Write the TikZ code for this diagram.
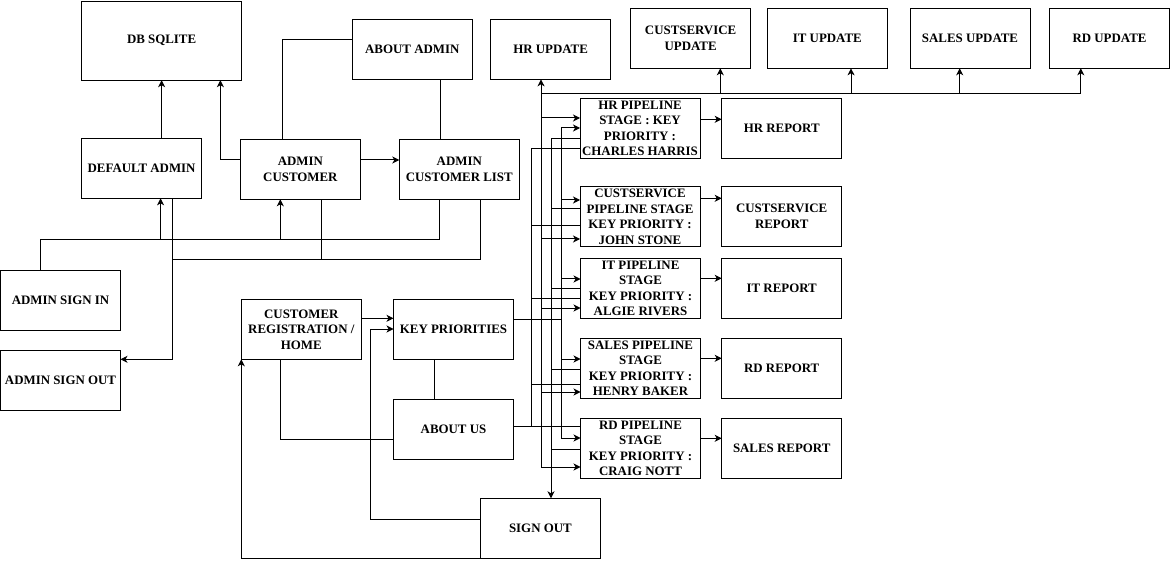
\documentclass[tikz,border=0pt]{standalone}
\usepackage{fontspec}
\setmainfont{Liberation Serif}
\usetikzlibrary{arrows.meta}
\begin{document}
\begin{tikzpicture}[x=1bp,y=-1bp,
  box/.style={draw, rectangle, line width=1bp, minimum width=120bp, minimum height=60bp,
    inner sep=0pt, outer sep=0pt, align=center,
    font=\bfseries\fontsize{12.9bp}{15.5bp}\selectfont},
  con/.style={line width=1bp},
  arr/.style={con, -{Stealth[length=7bp,width=7bp,inset=2bp]}}]
\useasboundingbox (0,0) rectangle (1170,568);
% boxes
\node[box, minimum width=160bp, minimum height=79bp] (db) at (161.6,40.7) {DB SQLITE};
\node[box] (aboutadmin) at (412.3,49.3) {ABOUT ADMIN};
\node[box] (hrup) at (550.6,49.3) {HR UPDATE};
\node[box] (csup) at (690.6,38.3) {CUSTSERVICE\\UPDATE};
\node[box] (itup) at (827.3,38.3) {IT UPDATE};
\node[box] (salesup) at (970,38.3) {SALES UPDATE};
\node[box] (rdup) at (1109.5,38.3) {RD UPDATE};
\node[box] (defadmin) at (141.6,168.3) {DEFAULT ADMIN};
\node[box] (admincust) at (300.4,169.3) {ADMIN\\CUSTOMER};
\node[box] (admincustlist) at (459.3,169.3) {ADMIN\\CUSTOMER LIST};
\node[box] (signin) at (60.5,300.3) {ADMIN SIGN IN};
\node[box] (signoutadm) at (60.5,380.3) {ADMIN SIGN OUT};
\node[box] (custreg) at (301.3,329.3) {CUSTOMER\\REGISTRATION /\\HOME};
\node[box] (keypri) at (453.5,329.3) {KEY PRIORITIES};
\node[box] (aboutus) at (453.5,429.3) {ABOUT US};
\node[box] (signout) at (540.4,528.3) {SIGN OUT};
\node[box] (hrpipe) at (640,128.3) {HR PIPELINE\\STAGE : KEY\\PRIORITY :\\CHARLES HARRIS};
\node[box] (cspipe) at (640,216.7) {CUSTSERVICE\\PIPELINE STAGE\\KEY PRIORITY :\\JOHN STONE};
\node[box] (itpipe) at (640.5,288.3) {IT PIPELINE\\STAGE\\KEY PRIORITY :\\ALGIE RIVERS};
\node[box] (salespipe) at (640.5,368.3) {SALES PIPELINE\\STAGE\\KEY PRIORITY :\\HENRY BAKER};
\node[box] (rdpipe) at (640.5,448.3) {RD PIPELINE\\STAGE\\KEY PRIORITY :\\CRAIG NOTT};
\node[box] (hrrep) at (781.7,128.3) {HR REPORT};
\node[box] (csrep) at (781.7,216.5) {CUSTSERVICE\\REPORT};
\node[box] (itrep) at (781.7,288.3) {IT REPORT};
\node[box] (rdrep) at (781.7,368.3) {RD REPORT};
\node[box] (salesrep) at (781.7,448.3) {SALES REPORT};
% admin connectors
\draw[arr] (db.south |- defadmin.north) -- (db.south);
\draw[arr] (admincust.west |- 0,159.3) -| (db.south -| 220.4,0);
\draw[con] (aboutadmin.west |- 0,39.3) -| (admincust.north -| 282.3,0);
\draw[con] (aboutadmin.south -| 440.5,0) -- (admincustlist.north -| 440.5,0);
\draw[arr] (admincust.east |- 0,160) -- (admincustlist.west |- 0,160);
\draw[con] (signin.north -| 40.6,0) |- (439.8,239.3) -- (admincustlist.south -| 439.8,0);
\draw[arr] (160.6,239.3) -- (defadmin.south -| 160.6,0);
\draw[arr] (280.3,239.3) -- (admincust.south -| 280.3,0);
\draw[arr] (defadmin.south -| 172,0) |- (signoutadm.east |- 0,359.3);
\draw[con] (172,259.3) -| (admincustlist.south -| 480.4,0);
\draw[con] (321.5,259.3) -- (admincust.south -| 321.5,0);
% customer connectors
\draw[arr] (custreg.east |- 0,318.3) -- (keypri.west |- 0,318.3);
\draw[arr] (signout.west |- 0,519.3) -| (370.5,329) -- (keypri.west |- 0,329);
\draw[arr] (signout.south west) -| (custreg.south west);
\draw[con] (keypri.south -| 434.4,0) -- (aboutus.north -| 434.4,0);
\draw[con] (custreg.south -| 280.5,0) |- (aboutus.west |- 0,439.3);
% rail A (531)
\draw[con] (aboutus.east |- 0,426.7) -- (rdpipe.west |- 0,426.7);
\draw[con] (531,426.7) -- (531,149) -- (hrpipe.west |- 0,149);
\draw[con] (531,226) -- (cspipe.west |- 0,226);
\draw[con] (531,299) -- (itpipe.west |- 0,299);
\draw[con] (531,384) -- (salespipe.west |- 0,384);
% rail B (541)
\draw[arr] (541,467) -- (hrup.south -| 541,0);
\draw[con] (541,93.3) -- (1080.8,93.3);
\draw[arr] (720.3,93.3) -- (csup.south -| 720.3,0);
\draw[arr] (851,93.3) -- (itup.south -| 851,0);
\draw[arr] (959.7,93.3) -- (salesup.south -| 959.7,0);
\draw[arr] (1080.8,93.3) -- (rdup.south -| 1080.8,0);
\draw[arr] (541,118) -- (hrpipe.west |- 0,118);
\draw[arr] (541,239) -- (cspipe.west |- 0,239);
\draw[arr] (541,308) -- (itpipe.west |- 0,308);
\draw[arr] (541,392) -- (salespipe.west |- 0,392);
\draw[arr] (541,467) -- (rdpipe.west |- 0,467);
% rail C (551)
\draw[arr] (hrpipe.west |- 0,139) -| (signout.north -| 551,0);
\draw[con] (cspipe.west |- 0,209) -- (551,209);
\draw[con] (itpipe.west |- 0,289) -- (551,289);
\draw[con] (salespipe.west |- 0,369) -- (551,369);
\draw[con] (rdpipe.west |- 0,449) -- (551,449);
% rail D (561)
\draw[con] (keypri.east |- 0,319.3) -- (561,319.3);
\draw[arr] (561,438) -- (561,128) -- (hrpipe.west |- 0,128);
\draw[arr] (561,200) -- (cspipe.west |- 0,200);
\draw[arr] (561,279) -- (itpipe.west |- 0,279);
\draw[arr] (561,359) -- (salespipe.west |- 0,359);
\draw[arr] (561,438) -- (rdpipe.west |- 0,438);
% reports
\draw[arr] (hrpipe.east |- 0,119.3) -- (hrrep.west |- 0,119.3);
\draw[arr] (cspipe.east |- 0,198.3) -- (csrep.west |- 0,198.3);
\draw[arr] (itpipe.east |- 0,278.3) -- (itrep.west |- 0,278.3);
\draw[arr] (salespipe.east |- 0,358.3) -- (rdrep.west |- 0,358.3);
\draw[arr] (rdpipe.east |- 0,438.3) -- (salesrep.west |- 0,438.3);
\end{tikzpicture}
\end{document}
